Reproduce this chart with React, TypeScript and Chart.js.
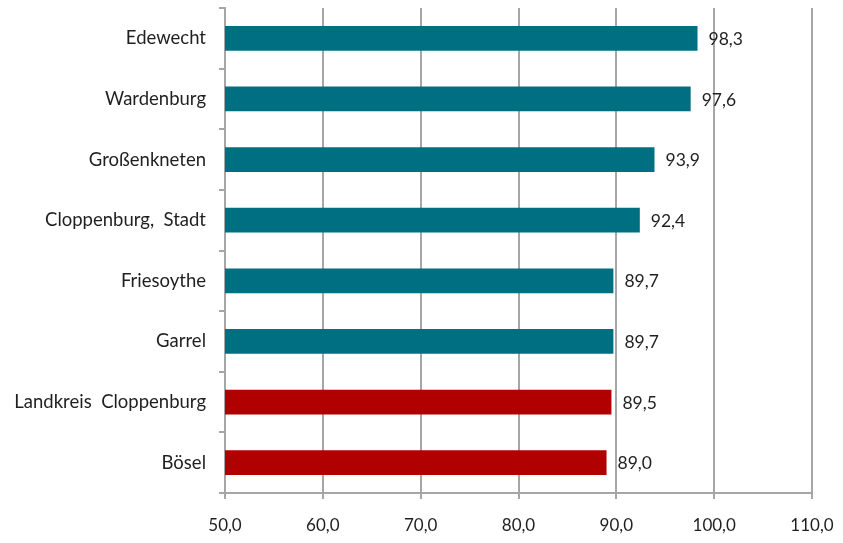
import React, { useEffect, useRef } from "react";
import { Chart, registerables } from "chart.js";

Chart.register(...registerables);

const categories = [
  "Edewecht",
  "Wardenburg",
  "Großenkneten",
  "Cloppenburg,  Stadt",
  "Friesoythe",
  "Garrel",
  "Landkreis  Cloppenburg",
  "Bösel",
];
const values = [98.3, 97.6, 93.9, 92.4, 89.7, 89.7, 89.5, 89.0];
const barColors = ["#006F81", "#006F81", "#006F81", "#006F81", "#006F81", "#006F81", "#B00000", "#B00000"];
const xMin = 50;
const xMax = 110;
const xStep = 10;

const fmt = (v: number) => v.toFixed(1).replace(".", ",");

const FONT = "Lato, 'Open Sans', sans-serif";

const valueLabels = {
  id: "valueLabels",
  afterDatasetsDraw(chart: any) {
    const ctx = chart.ctx;
    const meta = chart.getDatasetMeta(0);
    ctx.save();
    ctx.font = `17.5px ${FONT}`;
    ctx.fillStyle = "#1f1f1f";
    ctx.textAlign = "left";
    ctx.textBaseline = "middle";
    meta.data.forEach((el: any, i: number) => {
      ctx.fillText(fmt(values[i]), el.x + 11, el.y + 1);
    });
    ctx.restore();
  },
};

export default function App() {
  const ref = useRef<HTMLCanvasElement | null>(null);
  useEffect(() => {
    if (!ref.current) return;
    const chart = new Chart(ref.current, {
      type: "bar",
      data: {
        labels: categories,
        datasets: [
          {
            data: values,
            backgroundColor: barColors,
            borderWidth: 0,
            barPercentage: 0.41,
            categoryPercentage: 1,
          },
        ],
      },
      options: {
        indexAxis: "y",
        animation: false,
        responsive: false,
        maintainAspectRatio: false,
        layout: { padding: { top: 8, right: 31, left: 0, bottom: 0 } },
        plugins: { legend: { display: false }, tooltip: { enabled: false } },
        scales: {
          x: {
            min: xMin,
            max: xMax,
            ticks: {
              stepSize: xStep,
              callback: (v: any) => fmt(Number(v)),
              color: "#1f1f1f",
              font: { family: FONT, size: 17 },
              padding: 16,
              maxRotation: 0,
            },
            grid: { color: "#A6A6A6", lineWidth: 2, tickLength: 6, drawTicks: true },
            border: { color: "#A6A6A6", width: 2 },
            afterFit: (s: any) => {
              s.height = 50;
              s.paddingLeft = 0;
              s.paddingRight = 0;
            },
          },
          y: {
            ticks: {
              color: "#1f1f1f",
              font: { family: FONT, size: 18.5 },
              padding: 13,
            },
            grid: { offset: true, drawOnChartArea: false, color: "#A6A6A6", lineWidth: 2, tickLength: 6 },
            border: { color: "#A6A6A6", width: 2 },
            afterFit: (s: any) => {
              s.width = 225;
              s.paddingTop = 0;
              s.paddingBottom = 0;
            },
          },
        },
      },
      plugins: [valueLabels],
    });
    return () => chart.destroy();
  }, []);
  return (
    <div style={{ position: "fixed", left: 0, top: 0, width: 843, height: 543, background: "#fff" }}>
      <canvas ref={ref} width={843} height={543} style={{ width: 843, height: 543 }} />
    </div>
  );
}
